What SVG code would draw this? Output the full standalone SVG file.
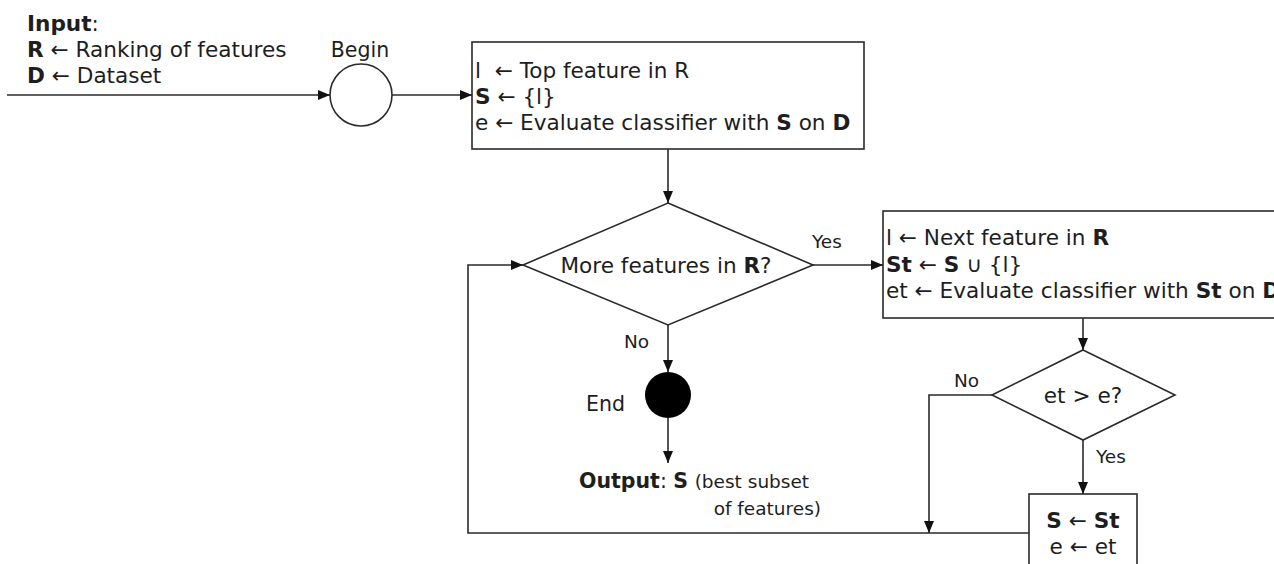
<svg xmlns="http://www.w3.org/2000/svg" width="1274" height="564" viewBox="0 0 1274 564">
<defs>
<marker id="arr" markerUnits="userSpaceOnUse" markerWidth="12" markerHeight="10" refX="12" refY="5" orient="auto">
<path d="M0,0 L12,5 L0,10 z" fill="#111"/>
</marker>
<style>
.t{font-family:"DejaVu Sans",Verdana,sans-serif;font-size:21.6px;fill:#1e1e1e}
.m{font-family:"DejaVu Sans",Verdana,sans-serif;font-size:20.5px;fill:#1e1e1e}
.s{font-family:"DejaVu Sans",Verdana,sans-serif;font-size:18.5px;fill:#1e1e1e}
.b{font-weight:bold}
.shape{fill:#fff;stroke:#2a2a2a;stroke-width:1.6}
.c{fill:none;stroke:#2a2a2a;stroke-width:1.6;marker-end:url(#arr)}
</style>
</defs>
<rect width="1274" height="564" fill="#fff"/>
<g id="input">
<text class="t" x="27" y="31"><tspan class="b">Input</tspan>:</text>
<text class="t" x="27" y="57"><tspan class="b">R</tspan> ← Ranking of features</text>
<text class="t" x="27" y="83"><tspan class="b">D</tspan> ← Dataset</text>
</g>
<g id="begin">
<circle class="shape" cx="361" cy="95" r="31"/>
<text class="m" x="360" y="57" text-anchor="middle">Begin</text>
</g>
<g id="init">
<rect class="shape" x="472" y="42" width="392" height="107"/>
<text class="t" x="475" y="78" xml:space="preserve">l  ← Top feature in R</text>
<text class="t" x="475" y="104"><tspan class="b">S</tspan> ← {l}</text>
<text class="t" x="475" y="130">e ← Evaluate classifier with <tspan class="b">S</tspan> on <tspan class="b">D</tspan></text>
</g>
<g id="more">
<polygon class="shape" points="668,203 813,265 668,325 523,265"/>
<text class="t" x="666" y="273" text-anchor="middle">More features in <tspan class="b">R</tspan>?</text>
</g>
<g id="next">
<rect class="shape" x="883" y="211" width="420" height="107"/>
<text class="t" x="886" y="245">l ← Next feature in <tspan class="b">R</tspan></text>
<text class="t" x="886" y="272"><tspan class="b">St</tspan> ← <tspan class="b">S</tspan> ∪ {l}</text>
<text class="t" x="886" y="298">et ← Evaluate classifier with <tspan class="b">St</tspan> on <tspan class="b">D</tspan></text>
</g>
<g id="better">
<polygon class="shape" points="1083,350 1175,395 1083,440 992,395"/>
<text class="t" x="1083" y="403" text-anchor="middle">et &gt; e?</text>
</g>
<g id="update">
<rect class="shape" x="1029" y="494" width="108" height="90"/>
<text class="t" x="1083" y="528" text-anchor="middle"><tspan class="b">S</tspan> ← <tspan class="b">St</tspan></text>
<text class="t" x="1083" y="554" text-anchor="middle">e ← et</text>
</g>
<g id="end">
<circle cx="668" cy="395" r="23" fill="#000"/>
<text class="m" x="625" y="411" text-anchor="end">End</text>
</g>
<g id="output">
<text class="m" x="579" y="488"><tspan class="b">Output</tspan>: <tspan class="b">S</tspan> <tspan class="s">(best subset</tspan></text>
<text class="s" x="821" y="515" text-anchor="end">of features)</text>
</g>
<g id="connectors">
<path class="c" d="M7,95 H330"/>
<path class="c" d="M392,95 H472"/>
<path class="c" d="M668,149 V203"/>
<path class="c" d="M813,265 H883"/>
<path class="c" d="M668,325 V372"/>
<path class="c" d="M668,418 V463"/>
<path class="c" d="M1083,318 V350"/>
<path class="c" d="M1083,440 V494"/>
<path class="c" d="M992,395 H929 V533"/>
<path class="c" d="M1029,533 H468 V265 H523"/>
<text class="s" x="812" y="248">Yes</text>
<text class="s" x="624" y="348">No</text>
<text class="s" x="954" y="387">No</text>
<text class="s" x="1096" y="463">Yes</text>
</g>
</svg>
